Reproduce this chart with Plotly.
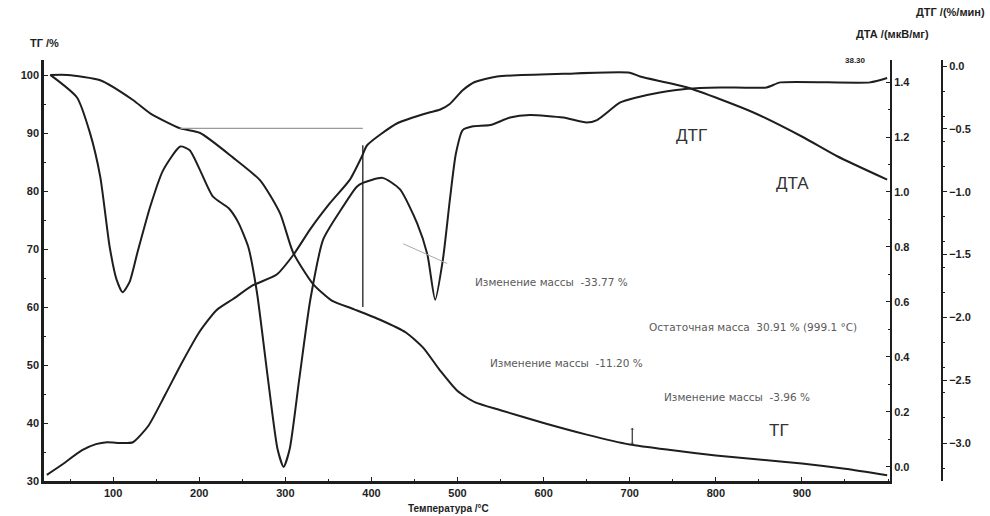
import plotly.graph_objects as go

# ---------------- data ----------------
tg_t = [27, 47, 85, 123, 143, 178, 201, 239, 271, 294, 309, 332, 354, 380, 410, 440, 460,
        480, 500, 520, 550, 600, 650, 700, 750, 800, 850, 900, 950, 999]
tg_v = [100, 100, 99.1, 95.7, 93.4, 90.8, 90.0, 85.8, 81.8, 76.1, 69.4, 64.0, 61.1, 59.6, 57.8,
        55.6, 53.0, 49.0, 45.5, 43.6, 42.2, 40.0, 38.0, 36.3, 35.3, 34.4, 33.7, 33.0, 32.1, 31.0]

dta_t = [23, 40, 64, 80, 93, 110, 123, 141, 160, 180, 200, 220, 239, 262, 290, 309, 329, 352,
         375, 389, 395, 430, 468, 480, 491, 506, 520, 546, 623, 700, 712, 767, 843, 901, 941, 999]
dta_v = [-0.029, 0.007, 0.061, 0.083, 0.09, 0.087, 0.09, 0.15, 0.26, 0.38, 0.49, 0.57, 0.61,
         0.66, 0.70, 0.77, 0.865, 0.96, 1.045, 1.13, 1.17, 1.25, 1.29, 1.30, 1.32, 1.37, 1.40,
         1.42, 1.43, 1.434, 1.42, 1.38, 1.29, 1.20, 1.13, 1.045]

dtg_t = [27, 58, 73, 85, 96, 104, 111, 119, 128, 143, 158, 178, 189, 201, 216, 234, 245, 257,
         267, 280, 291, 298, 305, 316, 329, 344, 364, 383, 390, 413, 433, 453, 465, 474, 483,
         491, 498, 506, 518, 538, 561, 584, 623, 650, 662, 689, 708, 735, 767, 805, 859, 875,
         979, 999]
dtg_v = [-0.07, -0.25, -0.53, -0.88, -1.44, -1.70, -1.80, -1.72, -1.49, -1.12, -0.83, -0.64,
         -0.67, -0.83, -1.04, -1.13, -1.24, -1.44, -1.80, -2.5, -3.05, -3.19, -3.05, -2.5,
         -1.86, -1.38, -1.15, -0.96, -0.93, -0.89, -0.98, -1.25, -1.50, -1.86, -1.54, -1.07,
         -0.70, -0.51, -0.48, -0.47, -0.41, -0.39, -0.41, -0.45, -0.43, -0.29, -0.25, -0.21,
         -0.18, -0.17, -0.17, -0.13, -0.13, -0.095]

x_ticks = [100, 200, 300, 400, 500, 600, 700, 800, 900]
tg_ticks = [30, 40, 50, 60, 70, 80, 90, 100]
dta_ticks = [0.0, 0.2, 0.4, 0.6, 0.8, 1.0, 1.2, 1.4]
dtg_ticks = [0.0, -0.5, -1.0, -1.5, -2.0, -2.5, -3.0]

# ---------------- layout geometry ----------------
W, H = 990, 516
L, R, T, B = 44, 48, 60, 35
PW, PH = W - L - R, H - T - B


def px(xp, yp):
    return (xp - L) / PW, (H - B - yp) / PH


INK = "#1e1e1e"
GREY = "#5a5a5a"
line_style = dict(color=INK, width=2, shape="spline", smoothing=0.6)

fig = go.Figure()
fig.add_trace(go.Scatter(x=tg_t, y=tg_v, mode="lines", line=line_style, yaxis="y", showlegend=False))
fig.add_trace(go.Scatter(x=dta_t, y=dta_v, mode="lines", line=line_style, yaxis="y2", showlegend=False))
fig.add_trace(go.Scatter(x=dtg_t, y=dtg_v, mode="lines", line=line_style, yaxis="y3", showlegend=False))

tickfont = dict(family="Liberation Sans", size=11, color=INK, weight="bold")
axis_common = dict(showgrid=False, zeroline=False, showline=True, linecolor=INK,
                   tickfont=tickfont, ticks="inside", ticklen=4, tickcolor=INK,
                   minor=dict(ticks="inside", ticklen=2, tickcolor=INK))

fig.update_layout(
    width=W, height=H, margin=dict(l=L, r=R, t=T, b=B),
    paper_bgcolor="white", plot_bgcolor="white",
    xaxis=dict(range=[19.7, 1002.3], domain=[0, 846 / 898], tickvals=x_ticks,
               linewidth=2.5, **axis_common),
    yaxis=dict(range=[30, 102.59], tickvals=tg_ticks, linewidth=2.5, **axis_common),
    yaxis2=dict(range=[-0.051, 1.48], tickvals=dta_ticks, tickformat=".1f", overlaying="y",
                side="right", anchor="x", linewidth=2, **axis_common),
    yaxis3=dict(range=[-3.302, 0.048], tickvals=dtg_ticks, tickformat=".1f", overlaying="y",
                side="right", anchor="free", position=1.0, linewidth=2,
                **{**axis_common, "ticks": "outside", "minor": dict(ticks="outside", ticklen=2, tickcolor=INK)}),
)

# ---------------- decorative guide lines ----------------
guide_h = dict(t0=178, t1=390, v=90.8)
guide_v = dict(t=390, v0=87.9, v1=60.0)
guide_d = dict(t0=437, t1=488, v0=70.9, v1=67.5)
fig.add_shape(type="line", xref="x", yref="y", x0=guide_h["t0"], x1=guide_h["t1"],
              y0=guide_h["v"], y1=guide_h["v"], line=dict(color="#9a9a9a", width=1.2))
fig.add_shape(type="line", xref="x", yref="y", x0=guide_v["t"], x1=guide_v["t"],
              y0=guide_v["v0"], y1=guide_v["v1"], line=dict(color=INK, width=1.3))
fig.add_shape(type="line", xref="x", yref="y", x0=guide_d["t0"], x1=guide_d["t1"],
              y0=guide_d["v0"], y1=guide_d["v1"], line=dict(color="#a8a8a8", width=1))
# small double arrow near 700 C
fig.add_annotation(x=703, y=36.3, ax=703, ay=39.2, xref="x", yref="y", axref="x", ayref="y",
                   showarrow=True, arrowhead=1, arrowsize=0.6, arrowwidth=1, arrowcolor="#444", text="")
fig.add_annotation(x=703, y=39.2, ax=703, ay=36.3, xref="x", yref="y", axref="x", ayref="y",
                   showarrow=True, arrowhead=1, arrowsize=0.6, arrowwidth=1, arrowcolor="#444", text="")


def label(text, xp, yp, size=11, bold=False, anchor="center", color=INK, family="Liberation Sans"):
    xx, yy = px(xp, yp)
    fig.add_annotation(x=xx, y=yy, xref="paper", yref="paper", text=text, showarrow=False,
                       xanchor=anchor, yanchor="middle",
                       font=dict(family=family, size=size, color=color,
                                 weight="bold" if bold else "normal"))


label("ТГ /%", 44, 43, size=11, bold=True)
label("ДТГ /(%/мин)", 987, 12, size=11, bold=True, anchor="right")
label("ДТА /(мкВ/мг)", 892, 34, size=11, bold=True)
label("38.30", 855, 60, size=8, bold=True)
label("Температура /°C", 448, 508, size=10, bold=True)
label("ДТГ", 691, 135, size=17, color="#333")
label("ДТА", 792, 183, size=17, color="#333")
label("ТГ", 779, 430, size=17, color="#333")

small = dict(size=10.5, color=GREY, anchor="left", family="DejaVu Sans")
label("Изменение массы  -33.77 %", 473, 282, **small)
label("Остаточная масса  30.91 % (999.1 °C)", 647, 327, **small)
label("Изменение массы  -11.20 %", 488, 363, **small)
label("Изменение массы  -3.96 %", 662, 397, **small)

fig.write_html("out.html")
